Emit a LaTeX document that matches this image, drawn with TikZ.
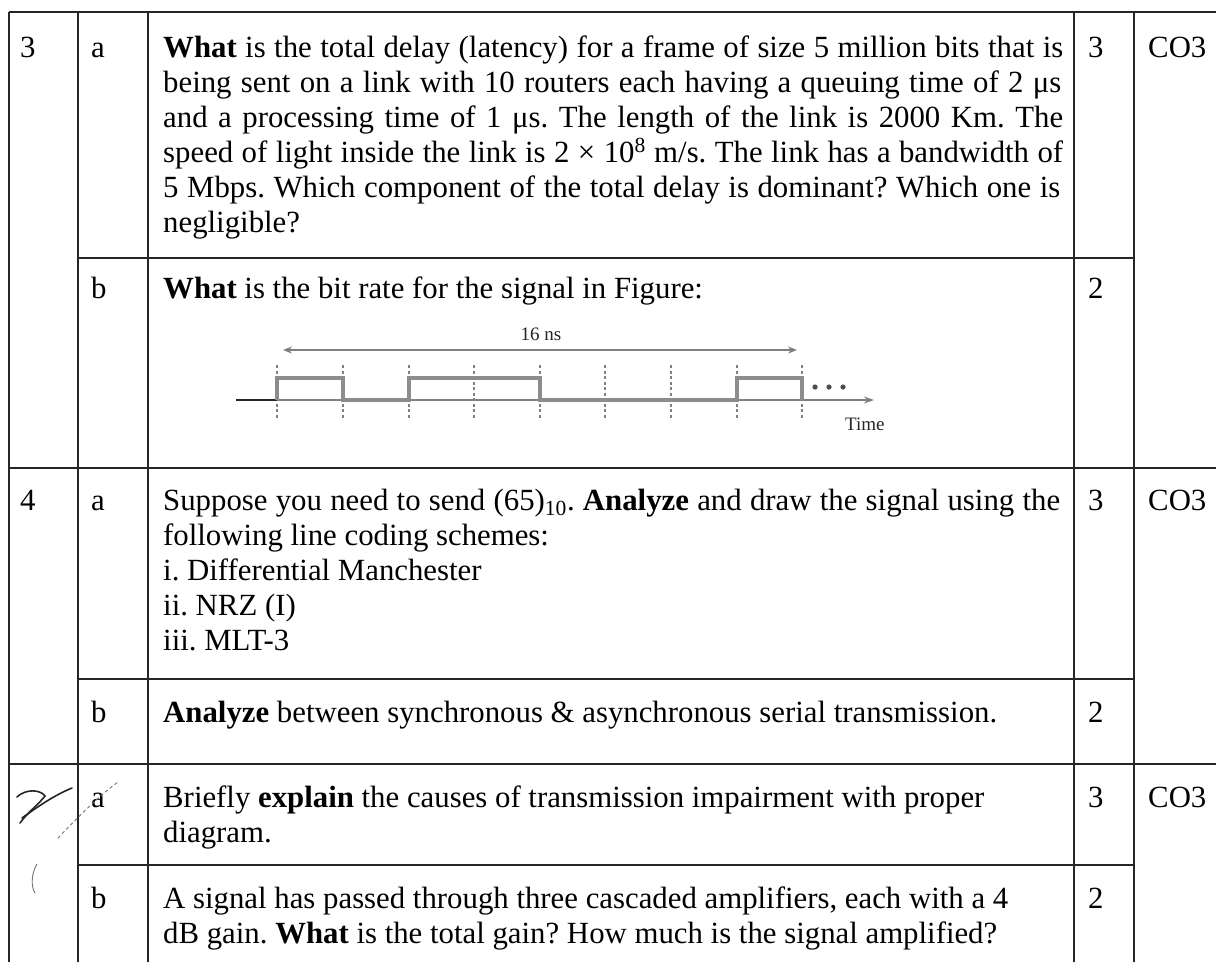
\documentclass[tikz,border=0pt]{standalone}
\usepackage{fontspec}
\setmainfont{Liberation Serif}
\usetikzlibrary{arrows.meta}
\frenchspacing
\begin{document}
\begin{tikzpicture}[x=1pt,y=-1pt,
  tl/.style={line width=2pt, draw=black!85},
  txt/.style={anchor=base west, inner sep=0pt, font=\fontsize{30.8}{35}\selectfont},
  sig/.style={line width=3.5pt, draw=black!45, line join=miter},
  gridln/.style={line width=1.6pt, draw=black!50, dash pattern=on 3pt off 2.5pt},
  ftxt/.style={inner sep=0pt, font=\fontsize{19}{22}\selectfont, text=black!85},
  hand/.style={line width=1.6pt, draw=black!85, line cap=round},
  thinhand/.style={line width=0.9pt, draw=black!55, line cap=round}]
\useasboundingbox (0,0) rectangle (1216,962);
\fill[white] (0,0) rectangle (1216,962);

% ---------- table rules ----------
\draw[tl] (9,12) -- (1216,12);
\draw[tl] (78,258) -- (1134,258);
\draw[tl] (9,468) -- (1216,468);
\draw[tl] (78,679) -- (1134,679);
\draw[tl] (9,764) -- (1216,764);
\draw[tl] (78,865) -- (1134,865);
\foreach \x in {9,78,148,1074,1134} \draw[tl] (\x,12) -- (\x,962);

% ---------- row 3 ----------
\node[txt] (n3) at (20,57) {3};
\node[txt] (l3a) at (91,57) {a};
\node[txt] (t3a1) at (163,57) {\makebox[900pt][s]{{\bfseries What} is the total delay (latency) for a frame of size 5 million bits that is}};
\node[txt] (t3a2) at (163,92) {\makebox[898pt][s]{being sent on a link with 10 routers each having a queuing time of 2 μs}};
\node[txt] (t3a3) at (163,127) {\makebox[900pt][s]{and a processing time of 1 μs. The length of the link is 2000 Km. The}};
\node[txt] (t3a4) at (163,162) {\makebox[900pt][s]{speed of light inside the link is 2 × 10\textsuperscript{8} m/s. The link has a bandwidth of}};
\node[txt] (t3a5) at (163,197) {\makebox[897pt][s]{5 Mbps. Which component of the total delay is dominant? Which one is}};
\node[txt] (t3a6) at (163,232) {negligible?};
\node[txt] (m3a) at (1088,57) {3};
\node[txt] (c3) at (1148,57) {CO3};

\node[txt] (l3b) at (91,298) {b};
\node[txt] (t3b) at (163,298) {{\bfseries What} is the bit rate for the signal in Figure:};
\node[txt] (m3b) at (1088,298) {2};

% figure
\node[ftxt] (ns) at (541,334) {16 ns};
\draw[line width=2.5pt, draw=black!50, {Stealth[length=9pt,width=7pt]}-{Stealth[length=9pt,width=7pt]}] (283,350) -- (797,350);
\foreach \x in {277,343,409,474,540,605,671,737,802} \draw[gridln] (\x,365) -- (\x,420);
\draw[line width=2.5pt, draw=black!50, -{Stealth[length=10pt,width=7pt]}] (236,400) -- (874,400);
\draw[line width=2.5pt, draw=black!85] (236,400) -- (277,400);
\draw[sig] (277,400) -- (277,378) -- (343,378) -- (343,400) -- (409,400) -- (409,378) -- (540,378) -- (540,400)
  -- (737,400) -- (737,378) -- (802,378) -- (802,400);
\foreach \x in {815,829,843} \fill[black!70] (\x,387) circle[radius=2.6pt];
\node[ftxt, anchor=base west] (time) at (845,430) {Time};

% ---------- row 4 ----------
\node[txt] (n4) at (20,510) {4};
\node[txt] (l4a) at (91,510) {a};
\node[txt] (t4a1) at (163,510) {\makebox[897pt][s]{Suppose you need to send (65)\textsubscript{10}. {\bfseries Analyze} and draw the signal using the}};
\node[txt] (t4a2) at (163,545) {following line coding schemes:};
\node[txt] (t4a3) at (163,580) {i. Differential Manchester};
\node[txt] (t4a4) at (163,615) {ii. NRZ (I)};
\node[txt] (t4a5) at (163,650) {iii. MLT-3};
\node[txt] (m4a) at (1088,510) {3};
\node[txt] (c4) at (1148,510) {CO3};

\node[txt] (l4b) at (91,722) {b};
\node[txt] (t4b) at (163,722) {{\bfseries Analyze} between synchronous \& asynchronous serial transmission.};
\node[txt] (m4b) at (1088,722) {2};

% ---------- row 5 ----------
\node[txt] (l5a) at (91,807) {a};
\node[txt] (t5a1) at (163,807) {Briefly {\bfseries explain} the causes of transmission impairment with proper};
\node[txt] (t5a2) at (163,842) {diagram.};
\node[txt] (m5a) at (1088,807) {3};
\node[txt] (c5) at (1148,807) {CO3};

\node[txt] (l5b) at (91,908) {b};
\node[txt] (t5b1) at (163,908) {A signal has passed through three cascaded amplifiers, each with a 4};
\node[txt] (t5b2) at (163,943) {dB gain. {\bfseries What} is the total gain? How much is the signal amplified?};
\node[txt] (m5b) at (1088,908) {2};

% handwritten marks
\draw[hand] (17,797) .. controls (25,789) and (40,789) .. (45,796);
\draw[hand] (45,796) .. controls (38,805) and (28,812) .. (20,823);
\draw[hand] (22,818) .. controls (40,805) and (55,795) .. (72,788);
\draw[thinhand, dashed] (58,838) .. controls (80,815) and (100,795) .. (118,782);
\draw[thinhand] (37,864) .. controls (31,874) and (31,887) .. (35,893);
\end{tikzpicture}
\end{document}
